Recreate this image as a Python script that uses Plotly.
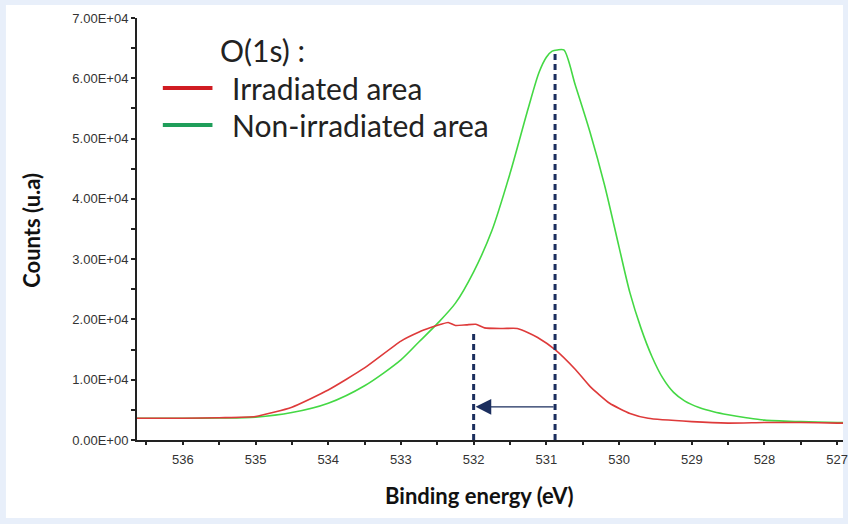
import plotly.graph_objects as go

# O(1s) XPS spectra: binding energy (eV) vs counts
energy_irr = [536.63, 536.0, 535.5, 535.0, 534.5, 534.0, 533.5, 533.0, 532.75, 532.6,
              532.45, 532.35, 532.25, 532.1, 531.97, 531.85, 531.6, 531.4, 531.25, 531.12,
              530.88, 530.6, 530.4, 530.13, 529.85, 529.6, 529.0, 528.5, 528.0, 527.5,
              527.0, 526.92]
counts_irr = [3600, 3600, 3700, 3900, 5450, 8300, 11950, 16400, 17900, 18600,
              19200, 19500, 19000, 19100, 19200, 18600, 18500, 18500, 17800, 17000,
              15000, 11700, 8900, 6100, 4400, 3600, 3050, 2800, 2900, 2900,
              2800, 2800]

energy_non = [536.63, 536.0, 535.5, 535.0, 534.5, 534.0, 533.5, 533.0, 532.75, 532.5,
              532.25, 532.0, 531.75, 531.5, 531.25, 531.1, 531.0, 530.92, 530.85, 530.76,
              530.6, 530.4, 530.2, 530.0, 529.85, 529.7, 529.55, 529.4, 529.25, 529.1,
              528.9, 528.7, 528.5, 528.25, 528.0, 527.5, 527.0, 526.92]
counts_non = [3600, 3600, 3650, 3800, 4550, 6100, 9000, 13300, 16300, 19300,
              22700, 27900, 34700, 44200, 55000, 61000, 63500, 64500, 64700, 64700,
              58800, 51100, 42300, 32000, 24400, 18600, 13900, 10300, 7900, 6500,
              5400, 4700, 4200, 3700, 3300, 3050, 2900, 2900]

# Peak positions marked by dashed lines, and the shift between them
peak_x = [532.0, 530.88]
peak_top = [18000, 64500]
shift_y = 5500

y_ticks = [0, 10000, 20000, 30000, 40000, 50000, 60000, 70000]
y_labels = ["0.00E+00", "1.00E+04", "2.00E+04", "3.00E+04", "4.00E+04",
            "5.00E+04", "6.00E+04", "7.00E+04"]
x_ticks = [536, 535, 534, 533, 532, 531, 530, 529, 528, 527]
x_labels = [str(v) for v in x_ticks]

NAVY = "#1b2e5e"
L, R, T, B = 137, 0, 18, 84
W, H = 848, 524
pw, ph = W - L - R, H - T - B


def px(x):
    return (x - L) / pw


def py(y):
    return (H - B - y) / ph


fig = go.Figure()
fig.add_trace(go.Scatter(x=energy_non, y=counts_non, mode="lines",
                         line=dict(color="#44d844", width=1.6, shape="spline",
                                   smoothing=0.8),
                         showlegend=False))
fig.add_trace(go.Scatter(x=energy_irr, y=counts_irr, mode="lines",
                         line=dict(color="#de3a3a", width=1.6, shape="spline",
                                   smoothing=0.5),
                         showlegend=False))
for xv, top in zip(peak_x, peak_top):
    fig.add_trace(go.Scatter(x=[xv, xv], y=[0, top], mode="lines",
                             line=dict(color=NAVY, width=3, dash="6px,4px"),
                             showlegend=False))

fig.add_annotation(x=peak_x[0], y=shift_y, ax=peak_x[1], ay=shift_y,
                   xref="x", yref="y", axref="x", ayref="y", text="",
                   showarrow=True, arrowhead=2, arrowsize=2.4, arrowwidth=1.3,
                   arrowcolor=NAVY, standoff=2)

# white panel inside the light frame
fig.add_shape(type="rect", xref="paper", yref="paper", layer="below",
              x0=px(5), x1=1.0, y0=py(518), y1=py(5),
              fillcolor="white", line=dict(width=0))

# legend block
leg_font = "Lato, Calibri, sans-serif"
fig.add_annotation(xref="paper", yref="paper", x=px(219), y=py(50), text="O(1s) :",
                   showarrow=False, xanchor="left", yanchor="middle",
                   font=dict(family=leg_font, size=30, color="#222"))
for yy, col, label in [(88, "#d01c22", "Irradiated area"),
                       (125, "#1f9e5a", "Non-irradiated area")]:
    fig.add_shape(type="line", xref="paper", yref="paper",
                  x0=px(163), x1=px(213), y0=py(yy), y1=py(yy),
                  line=dict(color=col, width=4))
    fig.add_annotation(xref="paper", yref="paper", x=px(231), y=py(yy), text=label,
                       showarrow=False, xanchor="left", yanchor="middle",
                       font=dict(family=leg_font, size=30, color="#222"))

# axis titles
fig.add_annotation(xref="paper", yref="paper", x=px(30), y=py(230),
                   xanchor="center", yanchor="middle",
                   text="<b>Counts (u.a)</b>", textangle=-90, showarrow=False,
                   font=dict(family=leg_font, size=22, color="#111"))
fig.add_annotation(xref="paper", yref="paper", x=px(482), y=py(495),
                   xanchor="center", yanchor="middle",
                   text="<b>Binding energy (eV)</b>", showarrow=False,
                   font=dict(family=leg_font, size=22, color="#111"))

tick_font = dict(family="Arial, Liberation Sans, sans-serif", size=13, color="#333")
fig.update_xaxes(range=[536.63, 526.92], tickvals=x_ticks, ticktext=x_labels,
                 showline=True, linecolor="#222", linewidth=2, showgrid=False,
                 zeroline=False, ticks="outside", ticklen=3, tickwidth=2,
                 tickcolor="#222", tickfont=tick_font, ticklabeloverflow="allow",
                 ticklabelstandoff=3,
                 minor=dict(dtick=0.5, tick0=527, ticks="outside", ticklen=3,
                            tickwidth=2, tickcolor="#222"))
fig.update_yaxes(range=[0, 70000], tickvals=y_ticks, ticktext=y_labels,
                 showline=True, linecolor="#222", linewidth=2, showgrid=False,
                 zeroline=False, ticks="outside", ticklen=4, tickwidth=1.5,
                 tickcolor="#222", tickfont=tick_font,
                 minor=dict(dtick=5000, ticks="outside", ticklen=4,
                            tickwidth=1.5, tickcolor="#222"))

fig.update_layout(width=W, height=H, margin=dict(l=L, r=R, t=T, b=B),
                  paper_bgcolor="#e8effa", plot_bgcolor="white",
                  showlegend=False)
fig.write_html("out.html")
